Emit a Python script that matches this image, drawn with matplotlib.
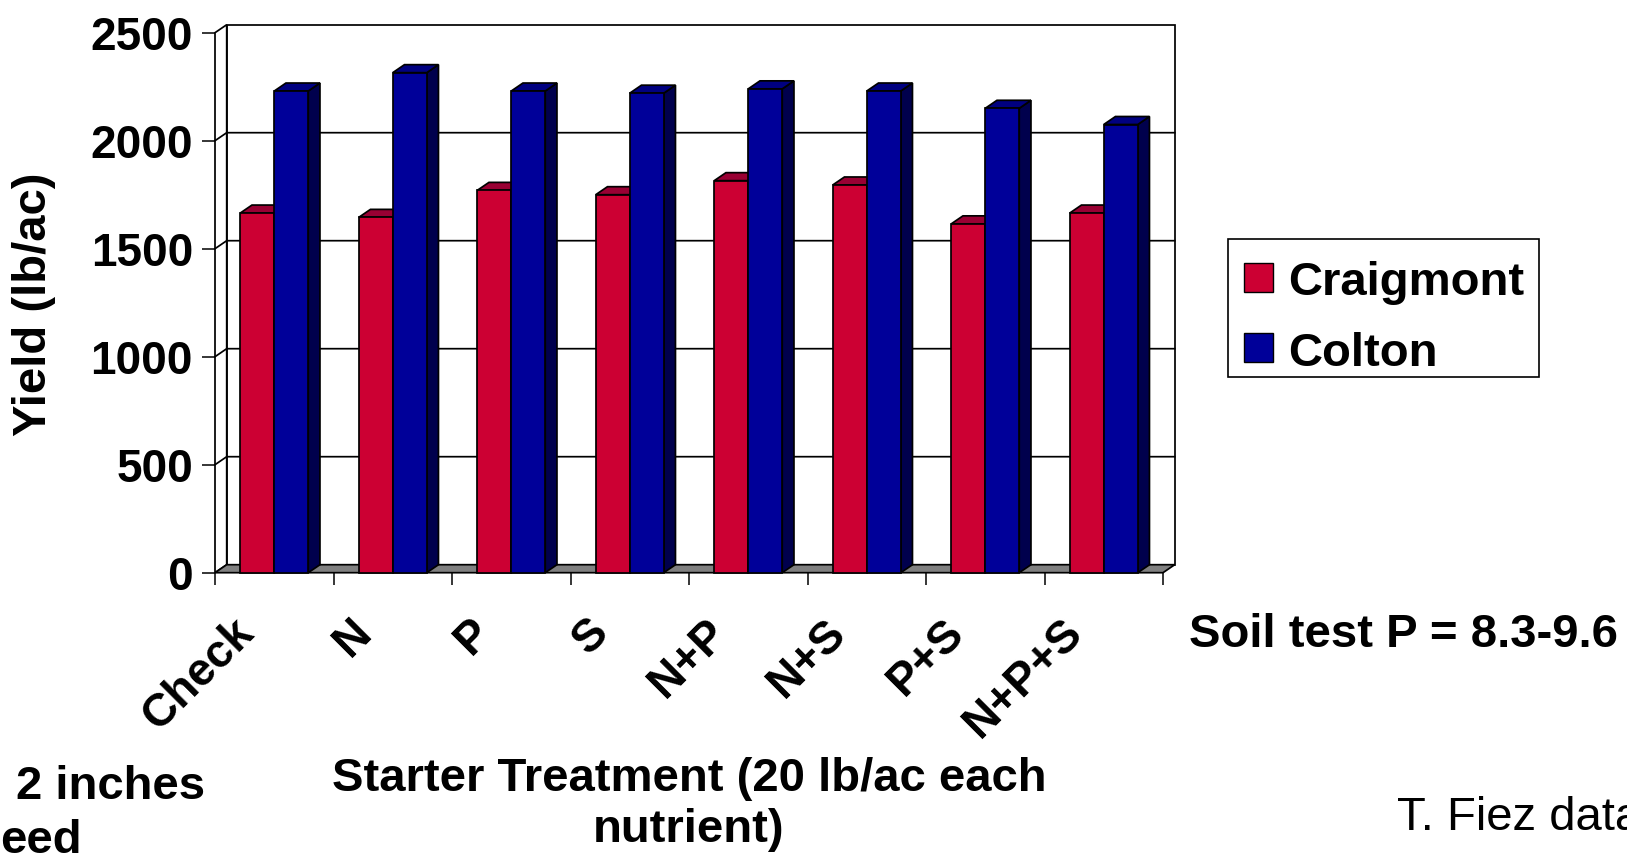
import numpy as np
import matplotlib.pyplot as plt
from matplotlib.patches import Polygon, Rectangle

# starter yield trial, two sites
treatments = ['Check', 'N', 'P', 'S', 'N+P', 'N+S', 'P+S', 'N+P+S']
series = ['Craigmont', 'Colton']
craigmont = [1665, 1645, 1770, 1750, 1815, 1795, 1615, 1665]
colton = [2230, 2315, 2230, 2220, 2240, 2230, 2150, 2075]
yticks = [0, 500, 1000, 1500, 2000, 2500]

W, H = 1627, 857

# front face, top, side for each series
colors = {
    'Craigmont': ('#CC0033', '#990033', '#660022'),
    'Colton': ('#000099', '#000080', '#00004D'),
}

plt.rcParams['font.family'] = ['Liberation Sans', 'DejaVu Sans']
plt.rcParams['font.weight'] = 'bold'


def fxy(x, y):
    # pixel position (from top-left) to figure fraction
    return x / W, 1 - y / H


fig = plt.figure(figsize=(W / 100, H / 100), dpi=100)
ax = fig.add_axes([215 / W, 1 - 572.7 / H, 948 / W, 540 / H])
n = len(treatments)
ax.set_xlim(0, n)
ax.set_ylim(0, 2500)
ax.patch.set_visible(False)
for s in ax.spines.values():
    s.set_visible(False)

# depth of the box in data units (about 11.7 px right, 8 px up)
DX = 11.7 / (948 / n)
DY = 8 / (540 / 2500)
bw = 0.287
lw = 1.25

# walls and floor
ax.add_patch(Rectangle((DX, DY), n, 2500, fc='white', ec='black', lw=lw, clip_on=False, zorder=1))
ax.add_patch(Polygon([(0, 0), (DX, DY), (DX, 2500 + DY), (0, 2500)], closed=True,
                     fc='white', ec='black', lw=lw, clip_on=False, zorder=1))
ax.add_patch(Polygon([(0, 0), (n, 0), (n + DX, DY), (DX, DY)], closed=True,
                     fc='#808080', ec='black', lw=lw, clip_on=False, zorder=1))
for v in yticks[1:-1]:
    ax.plot([0, DX, n + DX], [v, v + DY, v + DY], color='black', lw=lw, clip_on=False, zorder=1.5)

# bars, red first so the blue front hides its side
z = 2
for i in range(n):
    for j, (name, vals) in enumerate(zip(series, [craigmont, colton])):
        v = vals[i]
        x0 = i + 0.5 + (j - 1) * bw
        front, top, side = colors[name]
        ax.add_patch(Polygon([(x0 + bw, 0), (x0 + bw + DX, DY), (x0 + bw + DX, v + DY), (x0 + bw, v)],
                             closed=True, fc=side, ec='black', lw=lw, clip_on=False, zorder=z))
        ax.add_patch(Polygon([(x0, v), (x0 + bw, v), (x0 + bw + DX, v + DY), (x0 + DX, v + DY)],
                             closed=True, fc=top, ec='black', lw=lw, clip_on=False, zorder=z))
        ax.add_patch(Rectangle((x0, 0), bw, v, fc=front, ec='black', lw=lw, clip_on=False, zorder=z))
        z += 0.01

# axes ticks
ax.set_yticks(yticks)
ax.set_yticklabels([str(v) for v in yticks], fontsize=33, fontweight='bold')
ax.tick_params(axis='y', length=9.4, width=1.1, pad=6.5, direction='out')
ax.set_xticks(np.arange(n + 1))
ax.set_xticklabels([])
ax.tick_params(axis='x', length=8.5, width=1.1, direction='out')

for i, t in enumerate(treatments):
    ax.annotate(t, xy=(i + 0.5, 0), xytext=(-19 * 0.72, -62 * 0.72), textcoords='offset points',
                rotation=45, rotation_mode='anchor', ha='right', va='baseline',
                fontsize=33, fontweight='bold')

# titles
fig.text(*fxy(34, 304.5), 'Yield (lb/ac)', rotation=90, ha='center', va='center',
         fontsize=34, fontweight='bold')
fig.text(*fxy(689, 842), 'Starter Treatment (20 lb/ac each\nnutrient)', ha='center', va='baseline',
         multialignment='center', fontsize=34, fontweight='bold', linespacing=1.2)

# legend box
fig.add_artist(Rectangle(fxy(1228.3, 377.3), 311 / W, 138.3 / H, transform=fig.transFigure,
                         fc='white', ec='black', lw=1.2))
for name, ytop, base in [('Craigmont', 262.7, 295), ('Colton', 333.3, 365.7)]:
    fig.add_artist(Rectangle(fxy(1244.3, ytop + 29), 29 / W, 29 / H, transform=fig.transFigure,
                             fc=colors[name][0], ec='black', lw=1))
    fig.text(*fxy(1288, base), name, ha='left', va='baseline', fontsize=34, fontweight='bold')

# side notes
fig.text(*fxy(1189, 646.7), 'Soil test P = 8.3-9.6', ha='left', va='baseline',
         fontsize=34, fontweight='bold')
fig.text(*fxy(1397, 830), 'T. Fiez data', ha='left', va='baseline', fontsize=34, fontweight='normal')
fig.text(*fxy(15.6, 799), '2 inches', ha='left', va='baseline', fontsize=34, fontweight='bold')
fig.text(*fxy(0, 853), 'eed', ha='left', va='baseline', fontsize=34, fontweight='bold')

fig.savefig('out.png', dpi=100)
